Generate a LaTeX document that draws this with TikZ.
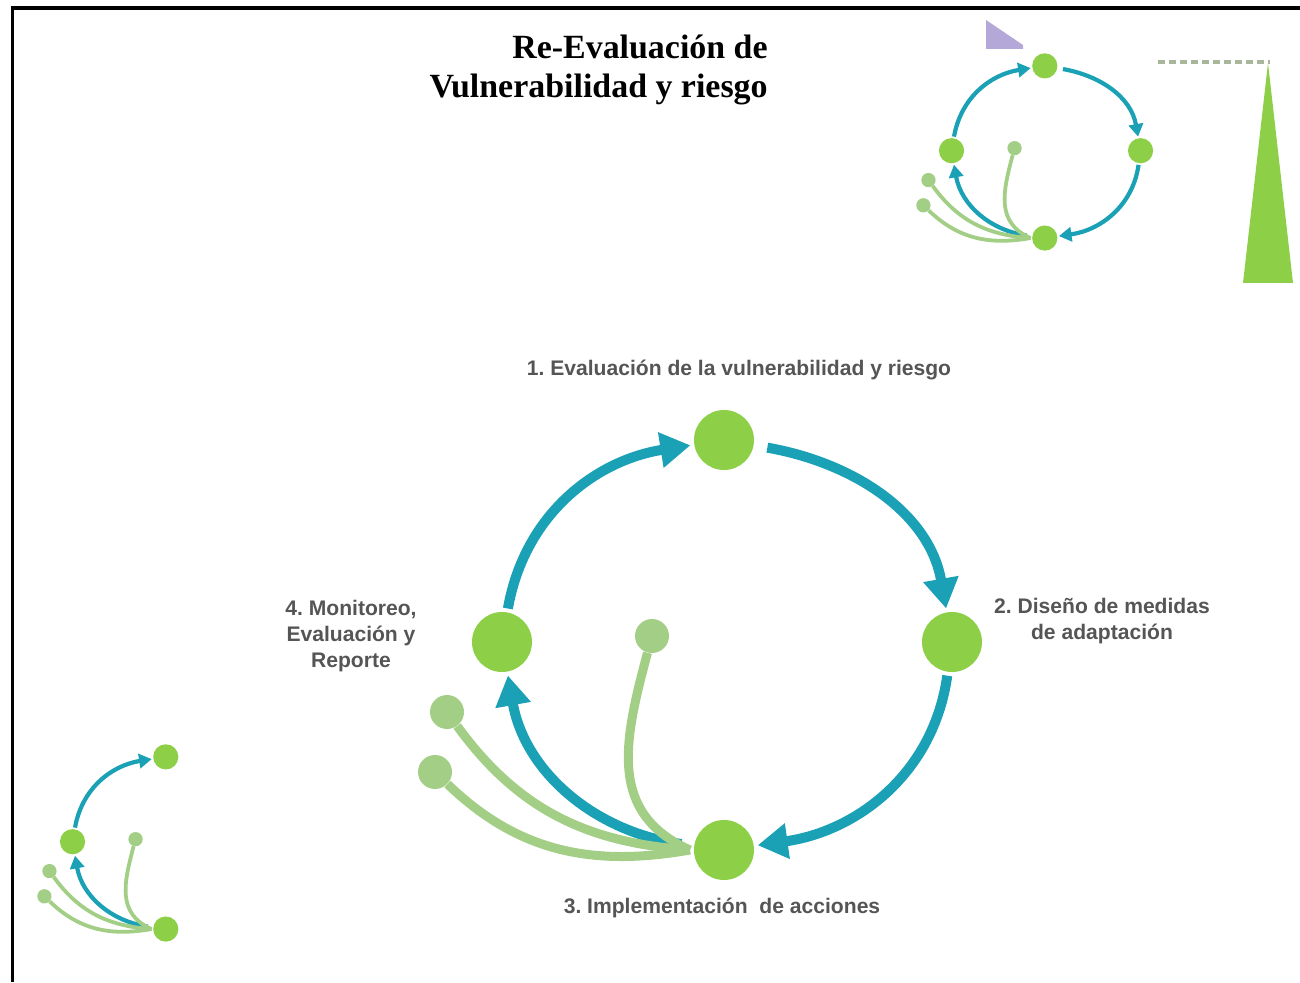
\documentclass[tikz,border=0pt]{standalone}
\usepackage{fontspec}
\setmainfont{Liberation Serif}
\setsansfont{Liberation Sans}
\usepackage{xcolor}
\usetikzlibrary{arrows.meta,positioning}
\frenchspacing

\definecolor{azul}{RGB}{27,161,181}
\definecolor{verde}{RGB}{141,208,72}
\definecolor{verdeclaro}{RGB}{163,206,134}
\definecolor{gris}{RGB}{85,85,85}
\definecolor{lila}{RGB}{180,168,216}
\definecolor{grisverde}{RGB}{168,182,156}

\def\esc{1}
\tikzset{
        nodo/.style={circle, fill=verde, minimum size=12mm, inner sep=0pt, outer sep=0.8mm},
        punta/.style={circle, fill=verdeclaro, minimum size=6.8mm, inner sep=0pt},
        flecha/.style={azul, line width=\esc*2mm, -{Triangle[length=0pt 3, width=0pt 3.4]}},
        rama/.style={verdeclaro, line width=\esc*1.8mm},
        texto/.style={text=gris, font=\sffamily\bfseries\fontsize{12}{15}\selectfont, align=center},
        titulo/.style={font=\rmfamily\bfseries\fontsize{19.3}{22.7}\selectfont, align=right, inner sep=0pt}
}

% mitad izquierda del ciclo: nodos 1, 3, 4 y las ramas
\newcommand{\mitadizq}[1]{%
        \node[nodo] (#1n1) at (724,542) {};
        \node[nodo] (#1n3) at (724,132) {};
        \node[nodo] (#1n4) at (502,340) {};
        \node[punta] (#1a) at (652,346) {};
        \node[punta] (#1b) at (447,270) {};
        \node[punta] (#1c) at (435,210) {};
        \draw[flecha] (#1n4) to[out=80,in=189] (#1n1);
        \draw[flecha, shorten <=\esc*1.8mm] (#1n3) to[out=172,in=-80] (#1n4);
        \draw[rama] (#1n3.west) to[out=156,in=255,looseness=1.15] (#1a);
        \draw[rama] (#1n3.west) to[out=176,in=306] (#1b);
        \draw[rama] (#1n3.west) to[out=190,in=316] (#1c);
}
% mitad derecha: nodo 2
\newcommand{\mitadder}[1]{%
        \node[nodo] (#1n2) at (952,340) {};
        \draw[flecha, shorten <=\esc*2mm] (#1n1) to[out=-10,in=100] (#1n2);
        \draw[flecha] (#1n2) to[out=-98,in=8] (#1n3);
}

\begin{document}
\begin{tikzpicture}[x=0.2mm, y=0.2mm]
        \useasboundingbox (0,0) rectangle (1300,982);
        \draw[line width=0.7mm] (12.5,0) -- (12.5,974) -- (1300,974); % marco

        % titulo
        \node[titulo, anchor=east] (titulo) at (768,912) {Re-Evaluación de\\Vulnerabilidad y riesgo};

        % ciclo principal
        \mitadizq{}
        \mitadder{}
        \node[texto] (t1) at (739,612) {1. Evaluación de la vulnerabilidad y riesgo};
        \node[texto] (t2) at (1102,361) {2. Diseño de medidas\\de adaptación};
        \node[texto] (t3) at (722,74) {3. Implementación\ \ de acciones};
        \node[texto] (t4) at (351,346) {4. Monitoreo,\\Evaluación y\\Reporte};

        % ciclo chico arriba
        \begin{scope}[shift={(740.7,688.5)}, scale=0.42, transform shape]
        \def\esc{0.42}
        \mitadizq{s}
        \mitadder{s}
        \end{scope}

        % medio ciclo abajo
        \begin{scope}[shift={(-138.3,-2.5)}, scale=0.42, transform shape]
        \def\esc{0.42}
        \mitadizq{m}
        \end{scope}

        % adornos
        \fill[lila] (986,962) -- (1023,937) -- (1023,933) -- (986,933) -- cycle;
        \draw[grisverde, line width=0.8mm, dash pattern=on 1.4mm off 0.8mm] (1158,920) -- (1270,920);
        \fill[verde] (1268,919) -- (1293,699) -- (1243,699) -- cycle;
\end{tikzpicture}
\end{document}
